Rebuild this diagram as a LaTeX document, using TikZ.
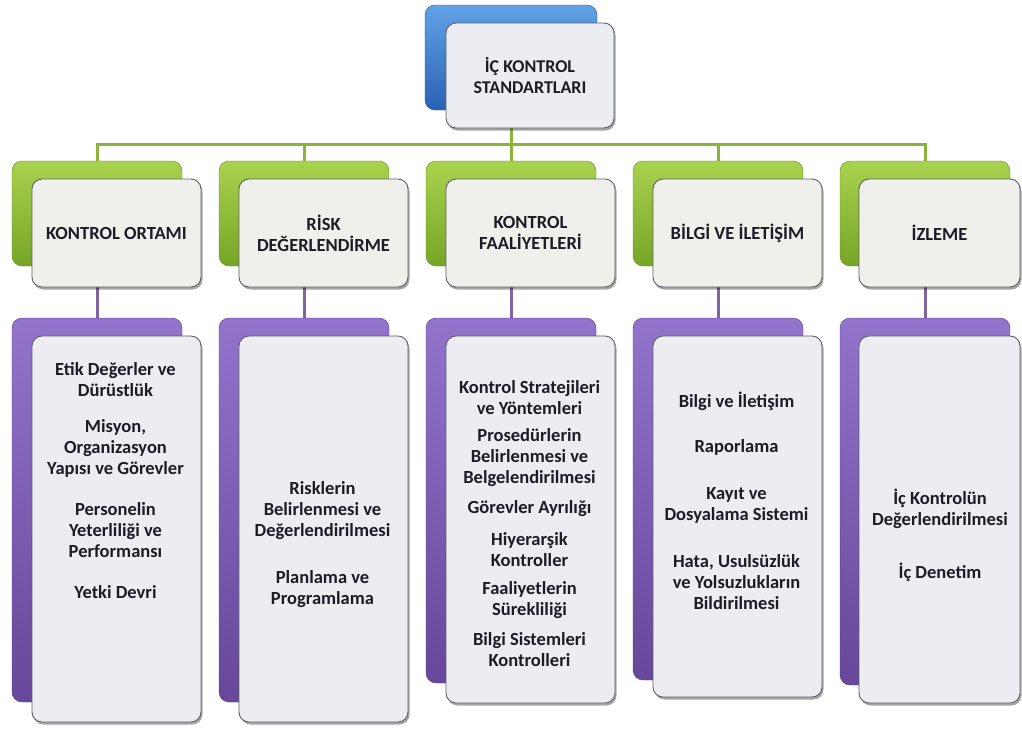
\documentclass[tikz,border=0pt]{standalone}
\usepackage{fontspec}
\setmainfont{Carlito}
\usetikzlibrary{shadows}
\pgfdeclarelayer{bg}
\pgfsetlayers{bg,main}
\definecolor{gTop}{HTML}{A9D24E}
\definecolor{gBot}{HTML}{76A526}
\definecolor{pTop}{HTML}{9274CC}
\definecolor{pBot}{HTML}{664799}
\definecolor{bTop}{HTML}{62A2E6}
\definecolor{bBot}{HTML}{2962B5}
\definecolor{gLine}{HTML}{8CB43C}
\definecolor{pLine}{HTML}{7E65A6}
\definecolor{frameGray}{HTML}{5E5E66}
\definecolor{gFill}{HTML}{EFF0EB}
\definecolor{pFill}{HTML}{EDECF1}
\definecolor{tFill}{HTML}{EBEDF2}
\definecolor{txt}{HTML}{1C1C24}
\begin{document}
\begin{tikzpicture}[x=1pt,y=-1pt,
  back/.style={rounded corners=10pt, inner sep=0pt, minimum width=170pt},
  gback/.style={back, top color=gTop, bottom color=gBot, draw=gBot!85!black, line width=0.4pt},
  pback/.style={back, top color=pTop, bottom color=pBot, draw=pBot!85!black, line width=0.4pt},
  bback/.style={back, minimum width=172pt, top color=bTop, bottom color=bBot, draw=bBot!85!black, line width=0.4pt},
  front/.style={rounded corners=10pt, inner sep=0pt, minimum width=169pt, draw=frameGray, line width=0.9pt,
    drop shadow={shadow xshift=1.5pt, shadow yshift=-2.5pt, opacity=0.35, fill=black}},
  gfront/.style={front, fill=gFill, font=\fontsize{18.5}{21}\selectfont\bfseries, align=center, text=txt},
  pfront/.style={front, fill=pFill},
  tfront/.style={front, minimum width=168pt, fill=tFill, font=\fontsize{18}{20.5}\selectfont\bfseries, align=center, text=txt},
  item/.style={font=\fontsize{18.5}{21}\selectfont\bfseries, align=center, text=txt, inner sep=0pt},
  gline/.style={draw=gLine, line width=3pt},
  pline/.style={draw=pLine, line width=3pt}
]
\useasboundingbox (0,0) rectangle (1022,729);

% top
\node[bback, minimum height=105pt] (topB) at (511,57.5) {};
\node[tfront, minimum height=105pt] (topF) at (530,75.5) {İÇ KONTROL\\STANDARTLARI};

% green back boxes
\node[gback, minimum height=105pt] (g1) at (97,213.5) {};
\node[gback, minimum height=105pt] (g2) at (304,213.5) {};
\node[gback, minimum height=105pt] (g3) at (511,213.5) {};
\node[gback, minimum height=105pt] (g4) at (718,213.5) {};
\node[gback, minimum height=105pt] (g5) at (925,213.5) {};

% green front boxes
\node[gfront, minimum height=108pt] (f1) at (116.5,233) {KONTROL ORTAMI};
\node[gfront, minimum height=108pt] (f2) at (323.5,233) {RİSK\\DEĞERLENDİRME};
\node[gfront, minimum height=108pt] (f3) at (530.5,233) {KONTROL\\FAALİYETLERİ};
\node[gfront, minimum height=108pt] (f4) at (737.5,233) {BİLGİ VE İLETİŞİM};
\node[gfront, minimum height=108pt, minimum width=161pt] (f5) at (939.5,233) {İZLEME};

% purple back boxes
\node[pback, minimum height=384pt] (p1) at (97,510) {};
\node[pback, minimum height=384pt] (p2) at (304,510) {};
\node[pback, minimum height=365pt] (p3) at (511,500.5) {};
\node[pback, minimum height=362pt] (p4) at (718,499) {};
\node[pback, minimum height=367pt] (p5) at (925,501.5) {};

% purple front boxes
\node[pfront, minimum height=386pt] (q1) at (116.5,529) {};
\node[pfront, minimum height=386pt] (q2) at (323.5,529) {};
\node[pfront, minimum height=367pt] (q3) at (530.5,519.5) {};
\node[pfront, minimum height=361pt] (q4) at (737.5,516.5) {};
\node[pfront, minimum height=367pt, minimum width=161pt] (q5) at (939.5,519.5) {};

% column 1 items
\node[item] (c1a) at (115.5,380) {Etik Değerler ve\\Dürüstlük};
\node[item] (c1b) at (115.5,448) {Misyon,\\Organizasyon\\Yapısı ve Görevler};
\node[item] (c1c) at (115.5,530) {Personelin\\Yeterliliği ve\\Performansı};
\node[item] (c1d) at (115.5,592) {Yetki Devri};

% column 2 items
\node[item] (c2a) at (322.5,511) {Risklerin\\Belirlenmesi ve\\Değerlendirilmesi};
\node[item] (c2b) at (322.5,589) {Planlama ve\\Programlama};

% column 3 items
\node[item] (c3a) at (529.5,397.5) {Kontrol Stratejileri\\ve Yöntemleri};
\node[item] (c3b) at (529.5,458) {Prosedürlerin\\Belirlenmesi ve\\Belgelendirilmesi};
\node[item] (c3c) at (529.5,509) {Görevler Ayrılığı};
\node[item] (c3d) at (529.5,549.5) {Hiyerarşik\\Kontroller};
\node[item] (c3e) at (529.5,600) {Faaliyetlerin\\Sürekliliği};
\node[item] (c3f) at (529.5,650) {Bilgi Sistemleri\\Kontrolleri};

% column 4 items
\node[item] (c4a) at (736.5,401) {Bilgi ve İletişim};
\node[item] (c4b) at (736.5,447) {Raporlama};
\node[item] (c4c) at (736.5,505) {Kayıt ve\\Dosyalama Sistemi};
\node[item] (c4d) at (736.5,582) {Hata, Usulsüzlük\\ve Yolsuzlukların\\Bildirilmesi};

% column 5 items
\node[item] (c5a) at (940,508.5) {İç Kontrolün\\Değerlendirilmesi};
\node[item] (c5b) at (940,572) {İç Denetim};

% connectors
\begin{pgfonlayer}{bg}
\coordinate (bus) at (511,144);
\draw[gline] (topB.south) -- (bus);
\draw[gline] (g1.north) |- (bus) -| (g5.north);
\draw[gline] (g2.north) -- (g2.north |- bus);
\draw[gline] (g3.north) -- (g3.north |- bus);
\draw[gline] (g4.north) -- (g4.north |- bus);
\draw[pline] (g1.south) -- (p1.north);
\draw[pline] (g2.south) -- (p2.north);
\draw[pline] (g3.south) -- (p3.north);
\draw[pline] (g4.south) -- (p4.north);
\draw[pline] (g5.south) -- (p5.north);
\end{pgfonlayer}
\end{tikzpicture}
\end{document}
